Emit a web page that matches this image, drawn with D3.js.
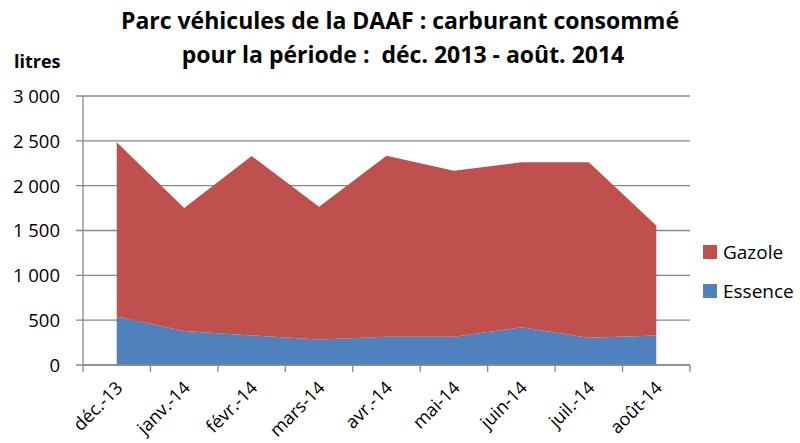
<!DOCTYPE html>
<html>
<head>
<meta charset="utf-8">
<script src="https://cdn.jsdelivr.net/npm/d3@7"></script>
<style>
  body { margin: 0; background: #fff; }
  text { font-family: "Open Sans", sans-serif; fill: #000; }
</style>
</head>
<body>
<div id="chart"></div>
<script>
var months = ["déc.-13", "janv.-14", "févr.-14", "mars-14", "avr.-14", "mai-14", "juin-14", "juil.-14", "août-14"];
var essence = [540, 380, 330, 285, 315, 315, 420, 305, 330];
var gazole = [1945, 1370, 2000, 1480, 2020, 1850, 1840, 1955, 1225];
var seriesNames = ["Essence", "Gazole"];
var yTicks = [0, 500, 1000, 1500, 2000, 2500, 3000];

var colors = { Essence: "#4F81BD", Gazole: "#C0504D" };

var width = 800, height = 443;
var plotLeft = 83, plotRight = 690, plotTop = 96, plotBottom = 365;

var table = months.map(function (m, i) {
  return { month: m, Essence: essence[i], Gazole: gazole[i] };
});

var svg = d3.select("#chart").append("svg")
  .attr("width", width)
  .attr("height", height);

var x = d3.scaleBand().domain(months).range([plotLeft, plotRight]);
var y = d3.scaleLinear().domain([0, 3000]).range([plotBottom, plotTop]);

/* gridlines */
svg.append("g")
  .selectAll("line")
  .data(yTicks)
  .enter()
  .append("line")
  .attr("x1", plotLeft - 7)
  .attr("x2", plotRight)
  .attr("y1", (d) => y(d))
  .attr("y2", (d) => y(d))
  .attr("stroke", "#888")
  .attr("stroke-width", 1.3);

/* stacked areas */
var stack = d3.stack().keys(seriesNames);
var layers = stack(table);

var area = d3.area()
  .x((d) => x(d.data.month) + x.bandwidth() / 2)
  .y0((d) => y(d[0]))
  .y1((d) => y(d[1]));

svg.append("g")
  .selectAll("path")
  .data(layers)
  .enter()
  .append("path")
  .attr("d", area)
  .attr("fill", (d) => colors[d.key]);

/* axes */
var yAxis = d3.axisLeft(y)
  .tickValues(yTicks)
  .tickSize(0)
  .tickFormat((d) => d3.format(",")(d).replace(",", " "));

var gy = svg.append("g")
  .attr("transform", `translate(${plotLeft},0)`)
  .call(yAxis);
gy.select(".domain").attr("stroke", "#888").attr("stroke-width", 1.3).attr("d", `M0,${plotBottom}V${plotTop}`);
gy.selectAll("text")
  .attr("x", -23)
  .attr("dy", "0.35em")
  .style("font-size", "18.5px")
  .style("font-family", "'Open Sans', sans-serif");

var gx = svg.append("g")
  .attr("transform", `translate(0,${plotBottom})`);
gx.append("line")
  .attr("x1", plotLeft).attr("x2", plotRight)
  .attr("stroke", "#888").attr("stroke-width", 1.3);
gx.selectAll(".tk")
  .data(months.concat(["end"]))
  .enter()
  .append("line")
  .attr("class", "tk")
  .attr("x1", (d, i) => plotLeft + i * x.step())
  .attr("x2", (d, i) => plotLeft + i * x.step())
  .attr("y1", 0).attr("y2", 7)
  .attr("stroke", "#888").attr("stroke-width", 1.3);
gx.selectAll(".lbl")
  .data(months)
  .enter()
  .append("text")
  .attr("class", "lbl")
  .attr("text-anchor", "end")
  .attr("transform", (d) => `translate(${x(d) + x.bandwidth() / 2 + 7},${24}) rotate(-45)`)
  .style("font-size", "18px")
  .text((d) => d);

/* title */
var title = svg.append("text")
  .attr("text-anchor", "middle")
  .style("font-size", "23px")
  .style("font-weight", "bold");
title.append("tspan").attr("x", 400).attr("y", 29).text("Parc véhicules de la DAAF : carburant consommé");
title.append("tspan").attr("x", 403).attr("y", 63).attr("xml:space", "preserve").text("pour la période :  déc. 2013 - août. 2014");

svg.append("text")
  .attr("x", 14)
  .attr("y", 68)
  .style("font-size", "18px")
  .style("font-weight", "bold")
  .text("litres");

/* legend */
var legend = svg.append("g")
  .selectAll("g")
  .data(["Gazole", "Essence"])
  .enter()
  .append("g")
  .attr("transform", (d, i) => `translate(703,${245 + i * 39})`);
legend.append("rect")
  .attr("width", 14).attr("height", 14)
  .attr("fill", (d) => colors[d]);
legend.append("text")
  .attr("x", 20).attr("y", 14)
  .style("font-size", "19px")
  .text((d) => d);
</script>
</body>
</html>
